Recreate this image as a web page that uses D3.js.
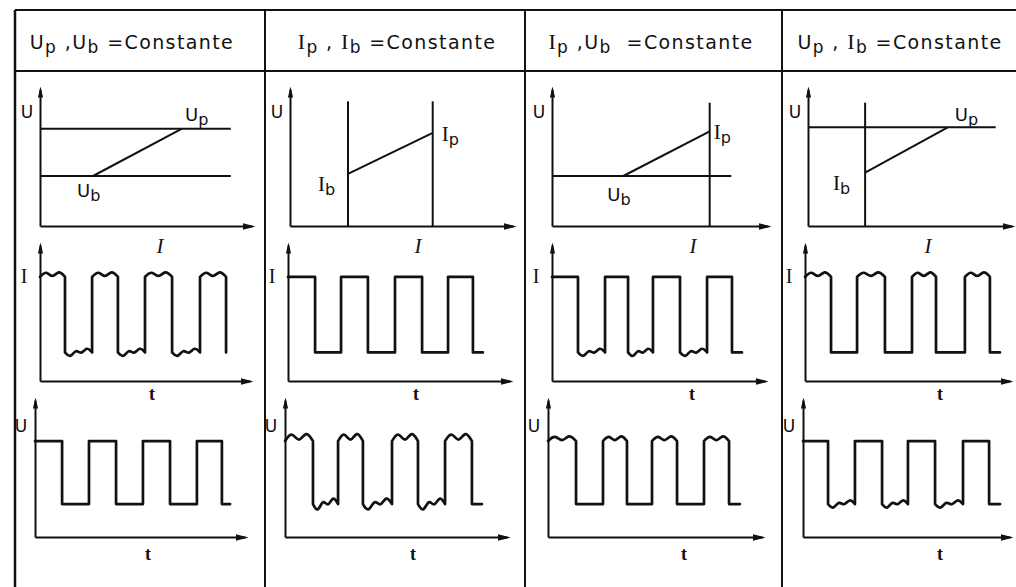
<!DOCTYPE html>
<html>
<head>
<meta charset="utf-8">
<script src="https://cdn.jsdelivr.net/npm/d3@7"></script>
<style>
  body { margin: 0; background: #fff; }
  text { fill: #111; white-space: pre; }
  .sans { font-family: "DejaVu Sans", sans-serif; }
  .serif { font-family: "Liberation Serif", serif; }
</style>
</head>
<body>
<div id="container"></div>
<script>
// ---- data ----
// column headers (text piece, style)
const headerParts = [
  [["U", "sans"], ["p", "sub"], [" ,", "sans"], ["U", "sans"], ["b", "sub"], [" =Constante", "sans"]],
  [["I", "serif"], ["p", "sub"], [" , ", "sans"], ["I", "serif"], ["b", "sub"], [" =Constante", "sans"]],
  [["I", "serif"], ["p", "sub"], [" ,", "sans"], ["U", "sans"], ["b", "sub"], ["  =Constante", "sans"]],
  [["U", "sans"], ["p", "sub"], [" , ", "sans"], ["I", "serif"], ["b", "sub"], [" =Constante", "sans"]]
];

// static characteristics U(I), segments in axis units (0..10)
const charLines = [
  [[[0, 7.1], [9.0, 7.1]], [[0, 3.65], [9.0, 3.65]], [[2.5, 3.65], [6.7, 7.1]]],
  [[[2.6, 9.1], [2.6, 0]], [[6.4, 9.1], [6.4, 0]], [[2.6, 3.8], [6.4, 6.8]]],
  [[[0, 3.65], [8.3, 3.65]], [[7.3, 9.0], [7.3, 0]], [[3.3, 3.65], [7.3, 6.9]]],
  [[[0, 7.2], [9.2, 7.2]], [[2.8, 9.0], [2.8, 0]], [[2.8, 3.9], [6.85, 7.2]]]
];

// pulse edges (time units 0..10) for current I(t) and voltage U(t)
const edgesI = [
  [1.19, 2.48, 3.71, 5.0, 6.29, 7.62, 8.86],
  [1.22, 2.39, 3.6, 4.82, 6.04, 7.21, 8.33],
  [1.22, 2.49, 3.57, 4.74, 6.01, 7.28, 8.45],
  [1.27, 2.54, 3.9, 5.22, 6.39, 7.8, 9.02]
];
const endI = [8.86, 8.78, 8.92, 9.51];
const edgesU = [
  [1.29, 2.57, 3.86, 5.14, 6.43, 7.71, 8.9],
  [1.26, 2.39, 3.51, 4.82, 5.99, 7.21, 8.42],
  [1.31, 2.57, 3.69, 4.86, 6.03, 7.29, 8.46],
  [1.21, 2.51, 3.82, 5.07, 6.38, 7.73, 8.99]
];
const endU = [9.29, 8.87, 8.97, 9.52];
const levelsI = [2.1, 7.65];   // [base, pulse]
const levelsU = [2.4, 7.0];

// which level of each waveform is disturbed
const rippleI = [["high", "low"], [], ["low"], ["high"]];
const rippleU = [[], ["high", "low"], ["high"], ["low"]];
const rippleGainI = [1, 1, 1, 1];
const rippleGainU = [1, 1.5, 1, 1];
const rippleHigh = [0.5, -0.15, 0.55];
const rippleLow = [-0.45, 0.3, -0.2, 0.45];

// ---- layout ----
const W = 1016, H = 587;
const colX = [15, 265, 525, 782];
const headerY = [10, 71];
const headerCx = [132, 397, 651, 900];
const topPanel = [[40, 252], [290, 513], [552, 768], [808, 1012]];
const midPanel = [[40, 250], [288, 510], [552, 765], [805, 1010]];
const botPanel = [[35, 245], [285, 507], [548, 762], [803, 1010]];
const topY = [226, 89], midY = [381, 245], botY = [537, 400];
const charLabels = [
  [{ parts: [["U", "sans"], ["p", "sub"]], ref: [6.7, 7.1], dx: 3, dy: -8 },
   { parts: [["U", "sans"], ["b", "sub"]], ref: [2.5, 3.65], dx: -16, dy: 21 }],
  [{ parts: [["I", "serif"], ["b", "sub"]], ref: [2.6, 3.8], dx: -30, dy: 17 },
   { parts: [["I", "serif"], ["p", "sub"]], ref: [6.4, 6.8], dx: 9, dy: 8 }],
  [{ parts: [["I", "serif"], ["p", "sub"]], ref: [7.3, 6.9], dx: 4, dy: 8 },
   { parts: [["U", "sans"], ["b", "sub"]], ref: [3.3, 3.65], dx: -16, dy: 25 }],
  [{ parts: [["U", "sans"], ["p", "sub"]], ref: [6.85, 7.2], dx: 7, dy: -6 },
   { parts: [["I", "serif"], ["b", "sub"]], ref: [2.8, 3.9], dx: -32, dy: 17 }]
];
const xLabelTop = [160, 418, 693, 928];
const tLabelMid = [152, 416, 692, 940];
const tLabelBot = [148, 413, 684, 940];
const ink = "#111";

const svg = d3.select("#container").append("svg")
  .attr("width", W).attr("height", H)
  .style("display", "block");

const defs = svg.append("defs");
defs.append("marker")
  .attr("id", "arrowH").attr("viewBox", "0 -5 13 10")
  .attr("refX", 10).attr("refY", 0)
  .attr("markerWidth", 13).attr("markerHeight", 10)
  .attr("markerUnits", "userSpaceOnUse").attr("orient", "auto")
  .append("path").attr("d", "M0,-3.5L13,0L0,3.5Z").attr("fill", ink);
defs.append("marker")
  .attr("id", "arrowV").attr("viewBox", "0 -4 11 8")
  .attr("refX", 8).attr("refY", 0)
  .attr("markerWidth", 11).attr("markerHeight", 8)
  .attr("markerUnits", "userSpaceOnUse").attr("orient", "auto")
  .append("path").attr("d", "M0,-2.6L11,0L0,2.6Z").attr("fill", ink);

// table frame
const frame = svg.append("g").attr("stroke", ink).attr("stroke-width", 2);
headerY.forEach(y => frame.append("line").attr("x1", colX[0]).attr("x2", W).attr("y1", y).attr("y2", y));
colX.forEach((x, i) => frame.append("line").attr("x1", x).attr("x2", x)
  .attr("y1", headerY[0]).attr("y2", H).attr("stroke-width", i === 0 ? 2.5 : 2));

// rich text helper
function richText(g, parts, x, y, size, anchor) {
  const t = g.append("text").attr("x", x).attr("y", y).attr("text-anchor", anchor || "start");
  let shifted = false;
  parts.forEach(([s, kind]) => {
    const span = t.append("tspan").text(s);
    if (kind === "sub") {
      span.attr("class", "sans").style("font-size", (size - 2) + "px").attr("dy", 4);
      shifted = true;
    } else {
      span.attr("class", kind).style("font-size", (kind === "serif" ? size + 3 : size) + "px");
      if (shifted) { span.attr("dy", -4); shifted = false; }
    }
  });
  return t;
}

headerParts.forEach((parts, i) => {
  richText(svg, parts, headerCx[i], 49, 19, "middle").style("letter-spacing", "1.4px");
});

function axes(g, x, y) {
  const gx = g.append("g").attr("transform", `translate(0,${y(0)})`)
    .call(d3.axisBottom(x).tickValues([]).tickSizeOuter(0));
  gx.select(".domain").attr("stroke", ink).attr("stroke-width", 2).attr("marker-end", "url(#arrowH)");
  const gy = g.append("g").attr("transform", `translate(${x(0)},0)`)
    .call(d3.axisLeft(y).tickValues([]).tickSizeOuter(0));
  gy.select(".domain").attr("stroke", ink).attr("stroke-width", 2).attr("marker-end", "url(#arrowV)");
}

function wavePoints(edges, end, levels, sides, gain) {
  const [low, high] = levels;
  const pts = [];
  const corner = p => { pts.push(p, p, p); };
  const segment = (t0, t1, side) => {
    const lv = side === "high" ? high : low;
    corner([t0, lv]);
    if (sides.includes(side) && t1 - t0 > 0.8) {
      const pat = side === "high" ? rippleHigh : rippleLow;
      pat.forEach((o, k) => pts.push([t0 + (k + 1) / (pat.length + 1) * (t1 - t0), lv + o * gain]));
    }
    corner([t1, lv]);
  };
  const bounds = [0, ...edges];
  edges.forEach((e, i) => segment(bounds[i], e, i % 2 === 0 ? "high" : "low"));
  const last = edges[edges.length - 1];
  segment(last, end, "low");
  return pts;
}

for (let c = 0; c < 4; c++) {
  const g = svg.append("g");

  // static characteristic
  const xt = d3.scaleLinear().domain([0, 10]).range(topPanel[c]);
  const yt = d3.scaleLinear().domain([0, 10]).range(topY);
  axes(g, xt, yt);
  g.append("g").selectAll("line").data(charLines[c]).join("line")
    .attr("x1", d => xt(d[0][0])).attr("y1", d => yt(d[0][1]))
    .attr("x2", d => xt(d[1][0])).attr("y2", d => yt(d[1][1]))
    .attr("stroke", ink).attr("stroke-width", 2);
  charLabels[c].forEach(l => {
    richText(g, l.parts, xt(l.ref[0]) + l.dx, yt(l.ref[1]) + l.dy, 18);
  });
  g.append("text").attr("class", "sans").attr("x", topPanel[c][0] - 13).attr("y", 118)
    .attr("text-anchor", "middle").style("font-size", "17px").text("U");
  g.append("text").attr("class", "serif").attr("x", xLabelTop[c]).attr("y", 253)
    .attr("text-anchor", "middle").style("font-size", "21px").style("font-style", "italic").text("I");

  // current waveform
  const xm = d3.scaleLinear().domain([0, 10]).range(midPanel[c]);
  const ym = d3.scaleLinear().domain([0, 10]).range(midY);
  axes(g, xm, ym);
  g.append("path")
    .datum(wavePoints(edgesI[c], endI[c], levelsI, rippleI[c], rippleGainI[c]))
    .attr("d", d3.line().x(d => xm(d[0])).y(d => ym(d[1])).curve(d3.curveBasis))
    .attr("fill", "none").attr("stroke", ink).attr("stroke-width", 2.7)
    .attr("stroke-linejoin", "round").attr("stroke-linecap", "round");
  g.append("text").attr("class", "serif").attr("x", midPanel[c][0] - 16).attr("y", 283)
    .attr("text-anchor", "middle").style("font-size", "20px").text("I");
  g.append("text").attr("class", "serif").attr("x", tLabelMid[c]).attr("y", 400)
    .attr("text-anchor", "middle").style("font-size", "18px").style("font-weight", "bold").text("t");

  // voltage waveform
  const xb = d3.scaleLinear().domain([0, 10]).range(botPanel[c]);
  const yb = d3.scaleLinear().domain([0, 10]).range(botY);
  axes(g, xb, yb);
  g.append("path")
    .datum(wavePoints(edgesU[c], endU[c], levelsU, rippleU[c], rippleGainU[c]))
    .attr("d", d3.line().x(d => xb(d[0])).y(d => yb(d[1])).curve(d3.curveBasis))
    .attr("fill", "none").attr("stroke", ink).attr("stroke-width", 2.7)
    .attr("stroke-linejoin", "round").attr("stroke-linecap", "round");
  g.append("text").attr("class", "sans").attr("x", botPanel[c][0] - 14).attr("y", 432)
    .attr("text-anchor", "middle").style("font-size", "17px").text("U");
  g.append("text").attr("class", "serif").attr("x", tLabelBot[c]).attr("y", 560)
    .attr("text-anchor", "middle").style("font-size", "18px").style("font-weight", "bold").text("t");
}
</script>
</body>
</html>
